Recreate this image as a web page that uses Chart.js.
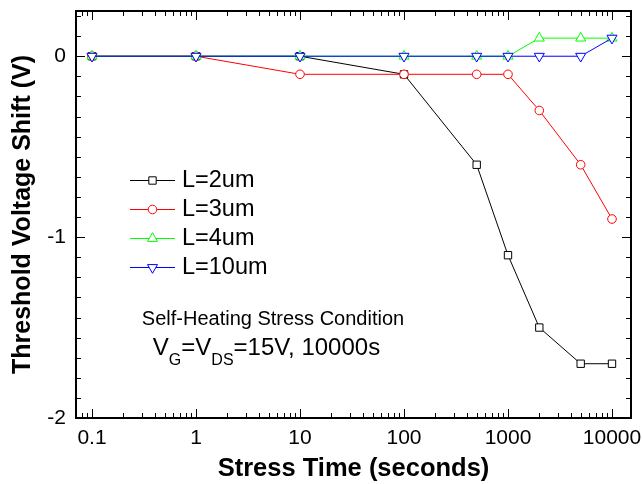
<!DOCTYPE html>
<html><head><meta charset="utf-8">
<script src="https://cdn.jsdelivr.net/npm/chart.js@4"></script>
<style>html,body{margin:0;padding:0;background:#fff}canvas{display:block}</style>
</head><body>
<canvas id="c" width="643" height="484" style="width:643px;height:484px"></canvas>
<script>
// ---- data ----
const stressTime = [0.1, 1, 10, 100, 500, 1000, 2000, 5000, 10000];
const shiftL2  = [0, 0, 0, -0.1, -0.6, -1.1, -1.5, -1.7, -1.7];
const shiftL3  = [0, 0, -0.1, -0.1, -0.1, -0.1, -0.3, -0.6, -0.9];
const shiftL4  = [0, 0, 0, 0, 0, 0, 0.1, 0.1, 0.1];
const shiftL10 = [0, 0, 0, 0, 0, 0, 0, 0, 0.1];
const seriesNames = ['L=2um', 'L=3um', 'L=4um', 'L=10um'];
const xTickLabels = ['0.1', '1', '10', '100', '1000', '10000'];
const xMajorTicks = [0.1, 1, 10, 100, 1000, 10000];
const yTickLabels = ['-2', '-1', '0'];
const yMajorTicks = [-2, -1, 0];
const xTitle = 'Stress Time (seconds)';
const yTitle = 'Threshold Voltage Shift (V)';
const noteLine1 = 'Self-Heating Stress Condition';

const FONT = '"Liberation Sans", Arial, Helvetica, sans-serif';
const X_MIN = 0.0702, X_MAX = 15230, Y_MIN = -2, Y_MAX = 0.25;

// minor tick positions (1..9 x 10^k) within range
const xTickVals = [];
for (let k = -2; k <= 4; k++) for (let m = 1; m <= 9; m++) {
  const v = +(m * Math.pow(10, k)).toPrecision(6);
  if (v >= X_MIN && v <= X_MAX) xTickVals.push(v);
}
const yTickVals = [];
for (let k = 0; k <= 20; k++) { const v = Y_MIN + k / 9; if (v <= Y_MAX + 1e-9) yTickVals.push(+v.toFixed(6)); }

function pts(ys) { return stressTime.map((x, i) => ({x: x, y: ys[i]})); }

const styles = [
  {color: '#000000', pointStyle: 'rect', radius: 5.2, rotation: 0},
  {color: '#ff0000', pointStyle: 'circle', radius: 4.3, rotation: 0},
  {color: '#00ff00', pointStyle: 'triangle', radius: 5.8, rotation: 0},
  {color: '#0000ff', pointStyle: 'triangle', radius: 5.8, rotation: 180}
];
const seriesValues = [shiftL2, shiftL3, shiftL4, shiftL10];

const datasets = seriesValues.map((vals, i) => ({
  label: seriesNames[i],
  data: pts(vals),
  borderColor: styles[i].color,
  backgroundColor: '#ffffff',
  borderWidth: 1,
  pointStyle: styles[i].pointStyle,
  pointRadius: styles[i].radius,
  pointRotation: styles[i].rotation,
  pointBorderColor: styles[i].color,
  pointBackgroundColor: '#ffffff',
  pointBorderWidth: 1,
  order: 3 - i,
  tension: 0
}));

const framePlugin = {
  id: 'framePlugin',
  afterDraw(chart) {
    const ctx = chart.ctx;
    const a = chart.chartArea;
    const xs = chart.scales.x, ys = chart.scales.y;
    ctx.save();
    ctx.strokeStyle = '#000';
    // ticks (inward) on all four sides
    ctx.lineWidth = 1;
    xTickVals.forEach(v => {
      const px = Math.round(xs.getPixelForValue(v)) + 0.5;
      const len = xMajorTicks.includes(v) ? 9 : 5;
      ctx.beginPath();
      ctx.moveTo(px, a.bottom); ctx.lineTo(px, a.bottom - len);
      ctx.moveTo(px, a.top); ctx.lineTo(px, a.top + len);
      ctx.stroke();
    });
    yTickVals.forEach(v => {
      const py = Math.round(ys.getPixelForValue(v)) + 0.5;
      const len = yMajorTicks.some(m => Math.abs(m - v) < 1e-6) ? 9 : 5;
      ctx.beginPath();
      ctx.moveTo(a.left, py); ctx.lineTo(a.left + len, py);
      ctx.moveTo(a.right, py); ctx.lineTo(a.right - len, py);
      ctx.stroke();
    });
    // frame
    ctx.lineWidth = 2;
    ctx.strokeRect(a.left, a.top, a.right - a.left, a.bottom - a.top);

    // legend
    const lx0 = 130, lx1 = 175, lmx = 152.5, ltx = 182, ly0 = 180, ldy = 29;
    chart.data.datasets.forEach((ds, i) => {
      const y = ly0 + i * ldy;
      ctx.lineWidth = 1;
      ctx.strokeStyle = ds.borderColor;
      ctx.beginPath(); ctx.moveTo(lx0, y + 0.5); ctx.lineTo(lx1, y + 0.5); ctx.stroke();
      ctx.fillStyle = '#ffffff';
      Chart.helpers.drawPoint(ctx, {pointStyle: ds.pointStyle, radius: ds.pointRadius, rotation: ds.pointRotation, borderWidth: 1}, lmx, y + 0.5);
      ctx.fillStyle = '#000';
      ctx.font = '23.5px ' + FONT;
      ctx.textAlign = 'left';
      ctx.textBaseline = 'middle';
      ctx.fillText(ds.label, ltx, y + 1);
    });

    // annotation
    ctx.fillStyle = '#000';
    ctx.textBaseline = 'alphabetic';
    ctx.textAlign = 'center';
    ctx.font = '20px ' + FONT;
    ctx.fillText(noteLine1, 273, 325);
    const parts = [
      {t: 'V', s: 24, dy: 0}, {t: 'G', s: 16, dy: 10},
      {t: '=V', s: 24, dy: 0}, {t: 'DS', s: 16, dy: 10},
      {t: '=15V, 10000s', s: 24, dy: 0}
    ];
    let total = 0;
    parts.forEach(p => { ctx.font = p.s + 'px ' + FONT; p.w = ctx.measureText(p.t).width; total += p.w; });
    let x = 266.5 - total / 2;
    ctx.textAlign = 'left';
    parts.forEach(p => { ctx.font = p.s + 'px ' + FONT; ctx.fillText(p.t, x, 355 + p.dy); x += p.w; });
    ctx.restore();
  }
};

new Chart(document.getElementById('c'), {
  type: 'line',
  data: {datasets: datasets},
  plugins: [framePlugin],
  options: {
    responsive: false,
    animation: false,
    devicePixelRatio: 1,
    layout: {padding: {left: 0, right: 12, top: 11, bottom: 0}},
    plugins: {legend: {display: false}, tooltip: {enabled: false}},
    scales: {
      x: {
        type: 'logarithmic', min: X_MIN, max: X_MAX,
        afterBuildTicks(scale) { scale.ticks = xTickVals.map(v => ({value: v})); },
        afterFit(scale) { scale.height = 66; scale.paddingLeft = 0; scale.paddingRight = 0; },
        grid: {display: false, drawTicks: false},
        border: {display: false},
        ticks: {
          autoSkip: false, maxRotation: 0, minRotation: 0, padding: 7.5, color: '#000',
          font: {family: FONT, size: 21},
          callback(value) { const i = xMajorTicks.indexOf(value); return i >= 0 ? xTickLabels[i] : ''; }
        },
        title: {display: true, text: xTitle, color: '#000', font: {family: FONT, size: 25.5, weight: 'bold'}, padding: {top: 0, bottom: 0}}
      },
      y: {
        type: 'linear', min: Y_MIN, max: Y_MAX,
        afterBuildTicks(scale) { scale.ticks = yTickVals.map(v => ({value: v})); },
        afterFit(scale) { scale.width = 76; scale.paddingTop = 0; scale.paddingBottom = 0; },
        grid: {display: false, drawTicks: false},
        border: {display: false},
        ticks: {
          autoSkip: false, padding: 10, color: '#000',
          font: {family: FONT, size: 21},
          callback(value) { const i = yMajorTicks.findIndex(m => Math.abs(m - value) < 1e-6); return i >= 0 ? yTickLabels[i] : ''; }
        },
        title: {display: true, text: yTitle, color: '#000', font: {family: FONT, size: 25, weight: 'bold'}, padding: {top: 8, bottom: 0}}
      }
    }
  }
});
</script>
</body></html>
